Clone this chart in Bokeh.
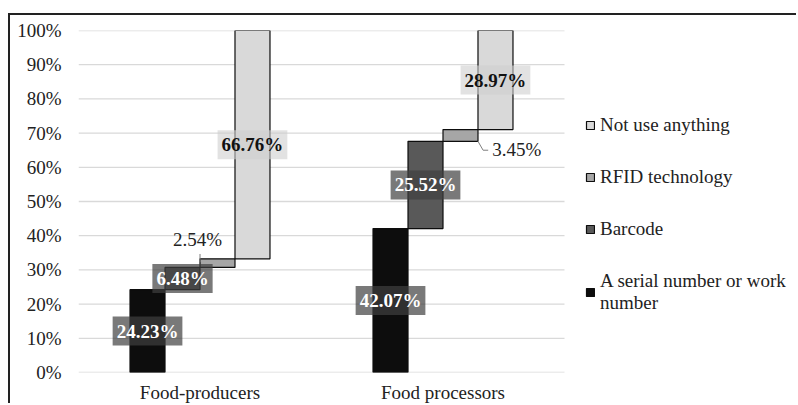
from bokeh.plotting import figure
from bokeh.models import (Range1d, Legend, LegendItem, Label, InlineStyleSheet,
                          FixedTicker, PrintfTickFormatter)
from bokeh.embed import file_html
from bokeh.resources import INLINE

groups = ["Food-producers", "Food processors"]
series = ["A serial number or work\nnumber", "Barcode", "RFID technology", "Not use anything"]
serial = [24.23, 42.07]
barcode = [6.48, 25.52]
rfid = [2.54, 3.45]
not_use = [66.76, 28.97]
y_ticks = [0, 10, 20, 30, 40, 50, 60, 70, 80, 90, 100]

colors = ["#0d0d0d", "#595959", "#a6a6a6", "#d9d9d9"]
FONT = "Liberation Serif"

n = len(groups)
x_end = n * 720 / 486
p = figure(x_range=Range1d(0, x_end), y_range=Range1d(0, 100), width=788, height=390,
           output_backend="svg", toolbar_location=None,
           min_border_left=68, min_border_top=15, min_border_right=0,
           min_border_bottom=33)
p.stylesheets = [InlineStyleSheet(css=":host { border-left: 2px solid #222222; "
                                      "border-top: 2px solid #222222; "
                                      "margin-left: 8px; margin-top: 13px; }")]
p.outline_line_color = None
p.xgrid.grid_line_color = None
p.ygrid.grid_line_color = None

for ax in (p.xaxis[0], p.yaxis[0]):
    ax.axis_line_color = None
    ax.major_tick_line_color = None
    ax.minor_tick_line_color = None
    ax.major_tick_out = 0
    ax.major_tick_in = 0
    ax.minor_tick_out = 0
    ax.minor_tick_in = 0
    ax.major_label_text_font = FONT
    ax.major_label_text_font_size = "19px"
    ax.major_label_text_color = "#222222"
p.yaxis.ticker = FixedTicker(ticks=y_ticks)
p.yaxis.formatter = PrintfTickFormatter(format="%d%%")
p.yaxis.major_label_standoff = 17
centers = [g + 0.5 for g in range(n)]
p.xaxis.ticker = FixedTicker(ticks=centers)
p.xaxis.major_label_overrides = {c: g for c, g in zip(centers, groups)}
p.xaxis.major_label_standoff = 9
p.xaxis.major_label_text_line_height = 0.8

# horizontal gridlines limited to the category area
p.segment(x0=[0] * len(y_ticks), x1=[n] * len(y_ticks), y0=y_ticks, y1=y_ticks,
          line_color="#d9d9d9", line_width=1.3)

data = [serial, barcode, rfid, not_use]
bw = 0.144
offsets = [(i - 1.5) * bw for i in range(4)]
renderers = []
cum = [0.0] * n
bottoms_all, tops_all = [], []
for i, vals in enumerate(data):
    xs = [c + offsets[i] for c in centers]
    bottoms = list(cum)
    tops = [b + v for b, v in zip(bottoms, vals)]
    cum = tops
    bottoms_all.append(bottoms)
    tops_all.append(tops)
    r = p.vbar(x=xs, bottom=bottoms, top=tops, width=bw, fill_color=colors[i],
               line_color="#0d0d0d", line_width=1.2)
    renderers.append(r)

label_style = {
    0: dict(text_color="white", bg="#404040", alpha=0.7),
    1: dict(text_color="white", bg="#404040", alpha=0.7),
    3: dict(text_color="#111111", bg="#cfcfcf", alpha=0.6),
}
for i, vals in enumerate(data):
    for g, v in enumerate(vals):
        if i in label_style:
            st = label_style[i]
            p.add_layout(Label(x=centers[g] + offsets[i], y=bottoms_all[i][g] + v / 2,
                               text=f"{v:.2f}%",
                               text_align="center", text_baseline="middle",
                               text_font=FONT, text_font_size="19px",
                               text_font_style="bold",
                               text_color=st["text_color"],
                               background_fill_color=st["bg"],
                               background_fill_alpha=st["alpha"], padding=4))

x0 = centers[0] + offsets[2] - bw / 2
p.segment(x0=[x0], y0=[tops_all[2][0] - 1.0], x1=[x0], y1=[tops_all[2][0] + 1.4],
          line_color="#7f7f7f", line_width=1)
p.add_layout(Label(x=x0 - 0.01, y=tops_all[2][0] + 5.6, text=f"{rfid[0]:.2f}%",
                   text_align="center", text_baseline="middle",
                   text_font=FONT, text_font_size="19px", text_color="#222222"))
x1 = centers[1] + offsets[2] + bw / 2
yb = bottoms_all[2][1]
p.line(x=[x1, x1 + 0.021, x1 + 0.042], y=[yb, yb - 2.6, yb - 2.6],
       line_color="#7f7f7f", line_width=1)
p.add_layout(Label(x=x1 + 0.042, y=yb - 2.4, text=f"{rfid[1]:.2f}%",
                   text_align="left", text_baseline="middle", x_offset=4,
                   text_font=FONT, text_font_size="19px", text_color="#222222"))

legend = Legend(items=[LegendItem(label=series[i], renderers=[renderers[i]])
                       for i in (3, 2, 1, 0)],
                location=(507, 58), orientation="vertical",
                glyph_width=10, glyph_height=10, label_standoff=5,
                label_text_font=FONT, label_text_font_size="19px",
                label_text_color="#222222", spacing=30, margin=0, padding=0,
                border_line_color=None, background_fill_alpha=0)
p.add_layout(legend, "center")

open("out.html", "w").write(file_html(p, INLINE))
